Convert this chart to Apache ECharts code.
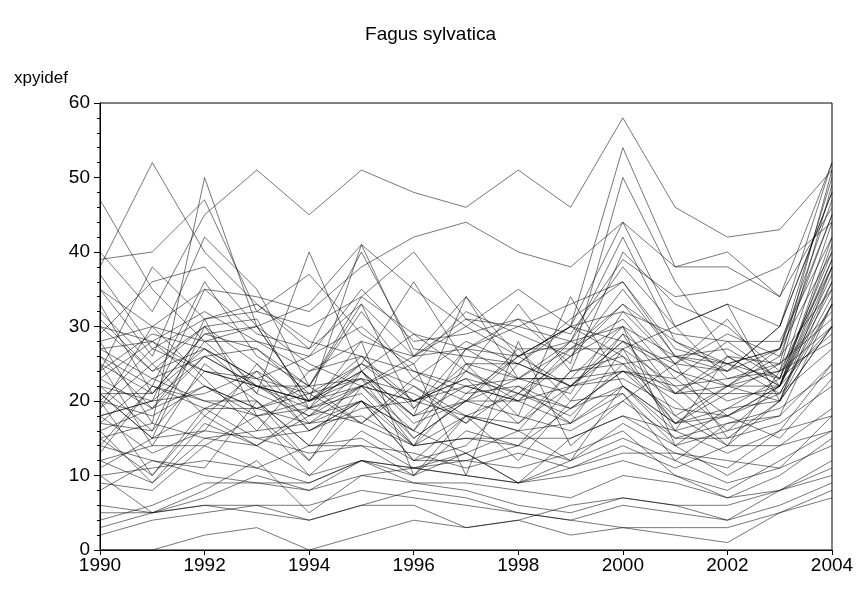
<!DOCTYPE html>
<html>
<head>
<meta charset="utf-8">
<script src="https://cdn.jsdelivr.net/npm/echarts@6/dist/echarts.min.js"></script>
<style>html,body{margin:0;padding:0;background:#fff}#chart{width:861px;height:596px}</style>
</head>
<body>
<div id="chart"></div>
<script>
// years on the x axis
const years = [1990,1991,1992,1993,1994,1995,1996,1997,1998,1999,2000,2001,2002,2003,2004];
const yTicks = [0,10,20,30,40,50,60];
// one row per tree
const lines = [
  [47,35,28,30,25,22,20,24,21,26,33,28,25,27,45],
  [38,52,40,33,28,26,24,22,20,22,28,25,24,30,52],
  [28,17,50,30,20,41,26,30,26,30,44,30,33,20,38],
  [40,32,45,51,45,51,48,46,51,46,58,46,42,43,51],
  [21,15,30,25,19,22,16,27,23,28,30,14,19,23,40],
  [18,20,26,22,20,24,15,20,26,22,28,21,26,22,35],
  [25,14,25,20,12,22,25,10,28,14,20,25,15,20,30],
  [15,10,18,14,18,20,12,14,21,18,25,20,14,24,28],
  [10,5,8,12,5,10,11,13,9,12,15,12,9,11,18],
  [5,5,6,5,4,6,8,7,5,4,6,5,4,8,11],
  [0,0,2,3,0,2,4,3,4,2,3,2,1,5,7],
  [2,4,5,6,4,6,6,3,4,6,7,6,6,8,10],
  [12,9,15,14,10,12,11,10,9,15,18,14,10,14,16],
  [30,28,32,28,24,26,20,22,20,26,30,26,22,24,38],
  [33,21,29,27,21,23,18,34,26,30,28,24,22,27,47],
  [20,18,22,19,17,22,20,18,17,22,23,19,18,21,34],
  [26,22,36,26,22,32,23,28,25,31,36,27,25,23,44],
  [17,23,20,18,12,20,16,13,16,12,22,15,17,18,25],
  [23,19,28,22,19,25,22,17,22,17,27,16,26,22,41],
  [35,26,42,35,22,34,29,24,33,24,40,33,30,24,49],
  [30,24,27,23,26,30,24,21,26,30,26,21,21,25,32],
  [19,30,23,16,24,28,10,18,16,24,26,17,18,22,30],
  [14,22,20,20,14,24,18,20,18,16,20,15,15,17,22],
  [8,12,10,9,9,12,11,10,9,11,13,13,12,11,14],
  [4,6,9,9,8,10,9,8,6,5,7,6,4,6,9],
  [27,28,24,22,20,22,26,34,23,27,31,23,28,23,29],
  [22,16,31,18,20,23,14,25,18,34,22,17,22,20,36],
  [16,19,26,22,20,24,17,20,27,20,29,18,22,22,39],
  [31,24,30,21,40,24,29,27,31,25,50,36,26,25,51],
  [11,15,16,15,13,14,10,16,14,12,17,13,11,16,18],
  [24,38,31,33,27,33,26,27,30,33,36,26,24,30,48],
  [13,22,19,15,16,20,12,18,12,20,21,12,17,19,24],
  [20,27,24,22,22,33,19,27,26,28,42,28,24,27,50],
  [26,19,22,18,19,21,14,21,22,19,24,22,23,24,30],
  [19,25,18,24,16,19,20,23,17,24,25,17,21,21,27],
  [35,30,28,28,26,35,28,29,31,29,39,34,35,38,44],
  [18,13,16,25,17,20,14,18,16,17,21,14,16,18,33],
  [22,20,35,29,27,40,27,26,25,30,32,25,29,26,45],
  [28,30,35,34,32,38,42,44,40,38,44,38,38,34,52],
  [16,9,17,14,19,17,14,15,14,19,22,16,18,15,23],
  [21,21,27,21,18,24,18,22,23,23,24,23,18,22,37],
  [14,12,11,20,14,15,11,12,11,13,16,10,8,12,16],
  [9,8,14,11,9,12,10,13,9,10,12,10,7,10,15],
  [39,40,47,32,37,29,25,32,29,26,35,26,25,27,40],
  [25,21,29,30,20,25,36,25,23,21,32,29,28,28,42],
  [17,16,24,23,16,20,16,24,20,27,27,22,16,22,38],
  [12,14,14,18,10,16,12,12,14,22,24,18,14,20,33],
  [29,36,38,30,33,41,35,30,35,30,54,38,40,34,46],
  [23,28,22,19,22,17,23,20,23,23,30,21,22,26,35],
  [6,5,7,10,8,12,9,9,8,7,10,9,7,8,12],
  [20,10,19,19,21,17,22,18,21,19,24,21,25,21,33],
  [32,25,30,31,19,28,26,31,27,27,33,25,31,22,36],
  [18,20,21,24,20,26,19,25,25,22,27,30,23,25,31],
  [27,23,26,27,22,23,21,17,25,22,29,24,20,22,42],
  [15,17,15,16,17,18,14,15,15,15,18,16,13,16,25],
  [24,29,27,23,21,25,20,23,21,28,25,26,27,23,39],
  [10,11,12,11,14,14,13,11,13,11,14,11,14,14,19],
  [37,27,31,32,30,34,40,31,30,28,38,30,33,30,48],
  [3,5,6,6,6,8,7,6,5,4,3,3,3,5,8],
  [21,15,19,22,18,22,15,20,20,17,22,17,19,20,30]
];

var myChart = echarts.init(document.getElementById('chart'));
var font = '"Liberation Sans", Arial, sans-serif';
var option = {
  animation: false,
  title: {
    text: 'Fagus sylvatica', left: 'center', top: 20,
    textStyle: {fontFamily: font, fontSize: 19, fontWeight: 'normal', color: '#000'}
  },
  grid: {left: 100, right: 29, top: 103, bottom: 46, show: true, borderColor: '#000', borderWidth: 1},
  xAxis: {
    type: 'value', min: 1990, max: 2004, interval: 2,
    axisLine: {lineStyle: {color: '#000'}},
    axisTick: {length: 5, lineStyle: {color: '#000'}},
    splitLine: {show: false},
    axisLabel: {fontFamily: font, fontSize: 19, color: '#000', margin: 6,
      formatter: function (v) { return String(v); }}
  },
  yAxis: {
    type: 'value', min: 0, max: 60, interval: 10,
    name: 'xpyidef', nameLocation: 'end', nameGap: 16,
    nameTextStyle: {fontFamily: font, fontSize: 17, color: '#000', align: 'left', padding: [0, 0, 0, -86]},
    axisLine: {lineStyle: {color: '#000'}},
    axisTick: {length: 6, lineStyle: {color: '#000'}},
    minorTick: {show: true, splitNumber: 5, length: 3, lineStyle: {color: '#000'}},
    splitLine: {show: false},
    axisLabel: {fontFamily: font, fontSize: 19, color: '#000', margin: 10}
  },
  series: lines.map(function (row) {
    return {
      type: 'line', symbol: 'none', silent: true,
      data: row.map(function (v, i) { return [years[i], v]; }),
      lineStyle: {color: 'rgba(0,0,0,0.6)', width: 0.9}
    };
  })
};
myChart.setOption(option);
</script>
</body>
</html>
